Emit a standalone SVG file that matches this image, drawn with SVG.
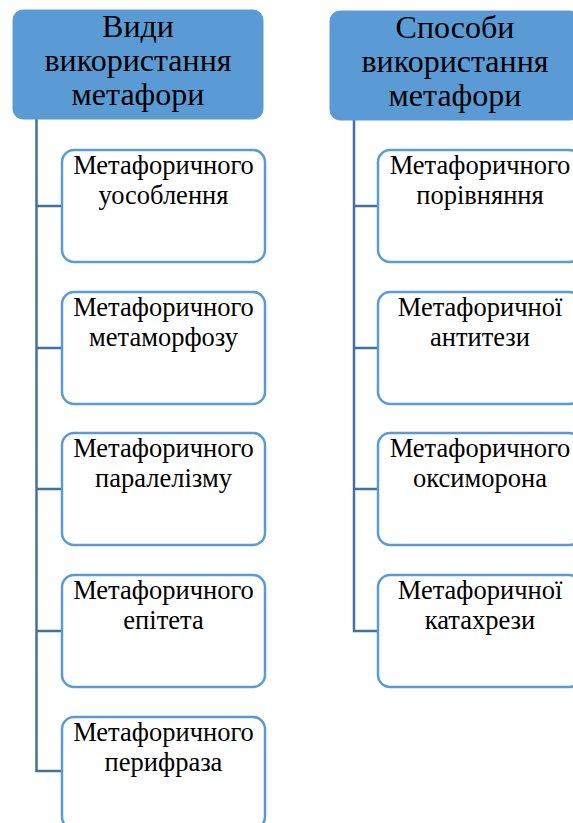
<svg xmlns="http://www.w3.org/2000/svg" width="573" height="823" viewBox="0 0 573 823">
<style>
.hdr{fill:#5B9BD5;stroke:#5B9BD5;stroke-width:1}
.box{fill:#fff;stroke:#5B9BD5;stroke-width:2.5}
.ht{font-family:"Liberation Serif","Times New Roman",serif;font-size:32px;fill:#000;text-anchor:middle}
.bt{font-family:"Liberation Serif","Times New Roman",serif;font-size:26.5px;fill:#000;text-anchor:middle}
.con{fill:none;stroke:#41719C;stroke-width:2.5}
</style>
<rect width="573" height="823" fill="#fff"/>
<g id="connectors">
<path class="con" d="M36.5,119 V771 H62 M36.5,206 H62 M36.5,348 H62 M36.5,489 H62 M36.5,631 H62"/>
<path class="con" d="M354,120 V631 H378 M354,206 H378 M354,348 H378 M354,489 H378"/>
</g>
<g id="h1">
<rect class="hdr" x="13" y="10" width="250" height="109" rx="10"/>
<text class="ht" x="138" y="37">Види</text>
<text class="ht" x="138" y="71">використання</text>
<text class="ht" x="138" y="104.5">метафори</text>
</g>
<g id="h2">
<rect class="hdr" x="330" y="11" width="250" height="109" rx="10"/>
<text class="ht" x="455" y="38">Способи</text>
<text class="ht" x="455" y="72">використання</text>
<text class="ht" x="455" y="105.5">метафори</text>
</g>
<g id="l1">
<rect class="box" x="62" y="150" width="203" height="112" rx="12"/>
<text class="bt" x="163.5" y="174">Метафоричного</text>
<text class="bt" x="163.5" y="204">уособлення</text>
</g>
<g id="l2">
<rect class="box" x="62" y="292" width="203" height="112" rx="12"/>
<text class="bt" x="163.5" y="316">Метафоричного</text>
<text class="bt" x="163.5" y="346">метаморфозу</text>
</g>
<g id="l3">
<rect class="box" x="62" y="433" width="203" height="112" rx="12"/>
<text class="bt" x="163.5" y="457">Метафоричного</text>
<text class="bt" x="163.5" y="487">паралелізму</text>
</g>
<g id="l4">
<rect class="box" x="62" y="575" width="203" height="112" rx="12"/>
<text class="bt" x="163.5" y="599">Метафоричного</text>
<text class="bt" x="163.5" y="629">епітета</text>
</g>
<g id="l5">
<rect class="box" x="62" y="717" width="203" height="112" rx="12"/>
<text class="bt" x="163.5" y="741">Метафоричного</text>
<text class="bt" x="163.5" y="771">перифраза</text>
</g>
<g id="r1">
<rect class="box" x="378" y="150" width="203" height="112" rx="12"/>
<text class="bt" x="480" y="174">Метафоричного</text>
<text class="bt" x="480" y="204">порівняння</text>
</g>
<g id="r2">
<rect class="box" x="378" y="292" width="203" height="112" rx="12"/>
<text class="bt" x="480" y="316">Метафоричної</text>
<text class="bt" x="480" y="346">антитези</text>
</g>
<g id="r3">
<rect class="box" x="378" y="433" width="203" height="112" rx="12"/>
<text class="bt" x="480" y="457">Метафоричного</text>
<text class="bt" x="480" y="487">оксиморона</text>
</g>
<g id="r4">
<rect class="box" x="378" y="575" width="203" height="112" rx="12"/>
<text class="bt" x="480" y="599">Метафоричної</text>
<text class="bt" x="480" y="629">катахрези</text>
</g>
</svg>
